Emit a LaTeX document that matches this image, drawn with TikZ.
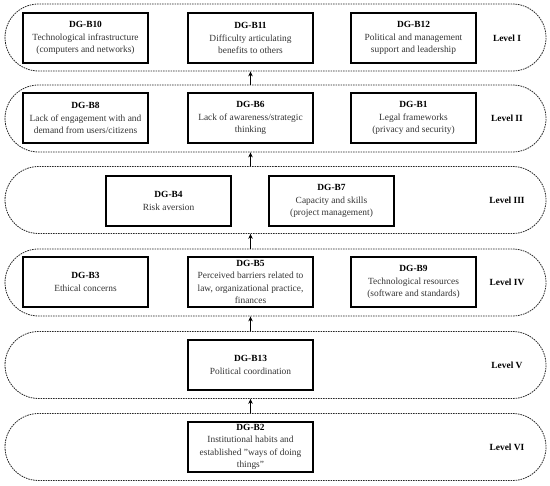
\documentclass[tikz,border=0pt]{standalone}
\usepackage{fontspec}
\setmainfont{Liberation Serif}
\usetikzlibrary{shapes.misc,arrows.meta}
\tikzset{
  band/.style={draw=black!85, dash pattern=on 1.6pt off 0.9pt, line width=0.8pt,
    rounded rectangle, minimum width=541pt, minimum height=67pt, inner sep=0pt},
  box/.style={draw=black, line width=1.2pt, minimum width=125pt, minimum height=50pt,
    inner sep=1pt, align=center, font=\fontsize{9.4}{12.6}\selectfont, text=black!80},
  lvl/.style={font=\fontsize{9.4}{11}\selectfont\bfseries},
  up/.style={line width=1.3pt, -{Stealth[length=5pt,width=4.5pt]}}
}
\newcommand{\hd}[1]{\textbf{\color{black}#1}}
\begin{document}
\begin{tikzpicture}[x=1pt,y=-1pt]
\useasboundingbox (0,0) rectangle (550,486);
% bands
\node[band] (L1) at (275.5,37.5) {};
\node[band] (L2) at (275.5,118.5) {};
\node[band] (L3) at (275.5,200) {};
\node[band] (L4) at (275.5,282.5) {};
\node[band] (L5) at (275.5,365) {};
\node[band] (L6) at (275.5,447) {};
% level labels
\node[lvl] (t1) at (507,38) {Level I};
\node[lvl] (t2) at (507,118.5) {Level II};
\node[lvl] (t3) at (507,200) {Level III};
\node[lvl] (t4) at (507,282.5) {Level IV};
\node[lvl] (t5) at (507,365) {Level V};
\node[lvl] (t6) at (507,447) {Level VI};
% level I
\node[box] (b10) at (85.5,38) {\hd{DG-B10}\\Technological infrastructure\\(computers and networks)};
\node[box] (b11) at (250.5,38) {\hd{DG-B11}\\Difficulty articulating\\benefits to others};
\node[box] (b12) at (413.5,38) {\hd{DG-B12}\\Political and management\\support and leadership};
% level II
\node[box] (b8) at (85.5,118) {\hd{DG-B8}\\Lack of engagement with and\\demand from users/citizens};
\node[box] (b6) at (250.5,118) {\hd{DG-B6}\\Lack of awareness/strategic\\thinking};
\node[box] (b1) at (413.5,118) {\hd{DG-B1}\\Legal frameworks\\(privacy and security)};
% level III
\node[box] (b4) at (168.5,201) {\hd{DG-B4}\\Risk aversion};
\node[box] (b7) at (331.5,201) {\hd{DG-B7}\\Capacity and skills\\(project management)};
% level IV
\node[box] (b3) at (85.5,282) {\hd{DG-B3}\\Ethical concerns};
\node[box, font=\fontsize{9.4}{12.2}\selectfont] (b5) at (250.5,282) {\hd{DG-B5}\\Perceived barriers related to\\law, organizational practice,\\finances};
\node[box] (b9) at (413.5,282) {\hd{DG-B9}\\Technological resources\\(software and standards)};
% level V
\node[box] (b13) at (250.5,365) {\hd{DG-B13}\\Political coordination};
% level VI
\node[box] (b2) at (250.5,447) {\hd{DG-B2}\\Institutional habits and\\established "ways of doing\\things"};
% arrows
\draw[up] (L2.north -| b6) -- (L1.south -| b6);
\draw[up] (L3.north -| b6) -- (L2.south -| b6);
\draw[up] (L4.north -| b6) -- (L3.south -| b6);
\draw[up] (L5.north -| b6) -- (L4.south -| b6);
\draw[up] (L6.north -| b6) -- (L5.south -| b6);
\end{tikzpicture}
\end{document}
